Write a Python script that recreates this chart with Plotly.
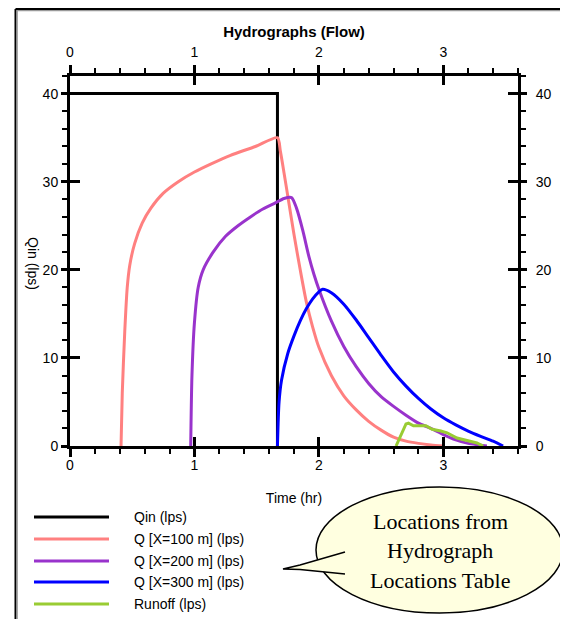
import plotly.graph_objects as go

# ---------------- data ----------------
qin_t = [0.0, 1.667, 1.667]
qin_q = [40.0, 40.0, 0.0]

q100_t = [0.41, 0.42, 0.44, 0.46, 0.48, 0.52, 0.58, 0.65, 0.75, 0.87, 1.0, 1.13, 1.29, 1.49, 1.667,
          1.69, 1.72, 1.76, 1.8, 1.85, 1.9, 1.95, 2.0, 2.1, 2.2, 2.3, 2.4, 2.5, 2.6, 2.7, 2.8, 2.9, 3.0]
q100_q = [0.0, 6.0, 13.0, 18.0, 20.5, 23.0, 25.3, 27.0, 28.7, 30.0, 31.1, 32.0, 33.0, 34.0, 35.0,
          33.5, 31.0, 27.5, 24.0, 20.0, 16.3, 13.5, 11.2, 8.0, 5.7, 4.1, 2.8, 1.8, 1.0, 0.55, 0.3, 0.12, 0.0]

q200_t = [0.97, 0.98, 1.0, 1.03, 1.07, 1.15, 1.25, 1.35, 1.45, 1.55, 1.65, 1.72, 1.78, 1.82, 1.87,
          1.92, 1.96, 2.0, 2.1, 2.2, 2.3, 2.4, 2.5, 2.6, 2.7, 2.8, 2.9, 3.0, 3.1, 3.2, 3.3, 3.35]
q200_q = [0.0, 8.0, 14.0, 18.0, 20.0, 22.0, 23.8, 25.0, 26.0, 26.9, 27.6, 28.1, 28.2, 27.0, 24.5,
          21.5, 19.5, 17.8, 14.2, 11.3, 9.0, 7.1, 5.6, 4.5, 3.5, 2.6, 2.0, 1.3, 0.7, 0.3, 0.1, 0.0]

q300_t = [1.667, 1.68, 1.7, 1.75, 1.8, 1.85, 1.9, 1.95, 2.0, 2.03, 2.1, 2.2, 2.3, 2.4, 2.5, 2.6,
          2.7, 2.8, 2.9, 3.0, 3.1, 3.2, 3.3, 3.4, 3.48]
q300_q = [0.0, 5.0, 7.5, 10.5, 12.5, 14.2, 15.6, 16.7, 17.5, 17.8, 17.4, 16.1, 14.3, 12.3, 10.3, 8.4,
          6.8, 5.4, 4.2, 3.2, 2.4, 1.7, 1.1, 0.55, 0.0]

runoff_t = [2.62, 2.70, 2.72, 2.76, 2.86, 2.91, 2.98, 3.03, 3.11, 3.19, 3.27, 3.32]
runoff_q = [0.0, 2.5, 2.6, 2.3, 2.3, 1.9, 1.7, 1.5, 0.9, 0.6, 0.35, 0.0]

series_names = ["Qin (lps)", "Q [X=100 m] (lps)", "Q [X=200 m] (lps)", "Q [X=300 m] (lps)", "Runoff (lps)"]
series_colors = ["#000000", "#FF8080", "#9933CC", "#0000FF", "#99CC33"]
series_smooth = [False, True, True, True, False]

x_range = [0, 3.6]
y_range = [0, 42]
callout_lines = ["Locations from", "Hydrograph", "Locations Table"]

# ---------------- layout helpers ----------------
# the page body has an 8px margin, so the figure is drawn 8px smaller and starts at (8, 8)
OFF = 8
W, H = 568 - OFF, 619 - OFF
PL, PR, PT, PB = 70, 518, 76, 446   # plot area in window pixels


def px(x):
    return (x - PL) / (PR - PL)


def py(y):
    return (PB - y) / (PB - PT)


FONT = "Liberation Sans, Arial, sans-serif"
tickfont = dict(family=FONT, size=14, color="black")

fig = go.Figure()
series = [(qin_t, qin_q), (q100_t, q100_q), (q200_t, q200_q), (q300_t, q300_q), (runoff_t, runoff_q)]
for (t, q), name, col, sm in zip(series, series_names, series_colors, series_smooth):
    line = dict(color=col, width=3)
    if sm:
        line.update(shape="spline", smoothing=0.7)
    fig.add_trace(go.Scatter(x=t, y=q, mode="lines", name=name, line=line, showlegend=False))

# dummy trace to register top/right axes
fig.add_trace(go.Scatter(x=[None], y=[None], xaxis="x2", yaxis="y2", showlegend=False,
                         hoverinfo="skip"))

common = dict(showgrid=False, zeroline=False, fixedrange=True, tickcolor="black",
              linecolor="black", linewidth=3, showline=True, tickfont=tickfont)

fig.update_layout(
    width=W, height=H,
    margin=dict(l=PL - OFF, r=W - (PR - OFF), t=PT - OFF, b=H - (PB - OFF)),
    paper_bgcolor="white", plot_bgcolor="white",
    title=dict(text="<b>Hydrographs (Flow)</b>", x=0.5, xref="paper", xanchor="center",
               y=1 - (32 - OFF) / H, yref="container", yanchor="middle",
               font=dict(family=FONT, size=15, color="black")),
    xaxis=dict(range=x_range, dtick=1, tick0=0, ticks="outside", ticklen=8, tickwidth=3,
               mirror="allticks", ticklabelstandoff=-4,
               minor=dict(dtick=0.2, tick0=0, ticks="outside", ticklen=5, tickwidth=2, tickcolor="black"),
               title=dict(text="Time (hr)", font=dict(family=FONT, size=14, color="black"), standoff=22),
               **common),
    xaxis2=dict(range=x_range, dtick=1, tick0=0, overlaying="x", side="top", anchor="y",
                ticks="inside", ticklen=9, tickwidth=3, mirror="allticks", ticklabelstandoff=10,
                **common),
    yaxis=dict(range=y_range, dtick=10, tick0=0, ticks="outside", ticklen=6, tickwidth=3,
               mirror="allticks",
               minor=dict(dtick=2, tick0=0, ticks="outside", ticklen=5, tickwidth=2, tickcolor="black"),
               **common),
    yaxis2=dict(range=y_range, dtick=10, tick0=0, overlaying="y", side="right", anchor="x",
                ticks="inside", ticklen=10, tickwidth=3, mirror="allticks", ticklabelstandoff=12,
                **common),
)

shapes = []
annotations = []

# outer frame (black + grey inner line), extends beyond the visible image
shapes.append(dict(type="line", xref="paper", yref="paper", x0=px(15.5), x1=px(600), y0=py(9), y1=py(9),
                   line=dict(color="black", width=2)))
shapes.append(dict(type="line", xref="paper", yref="paper", x0=px(15.5), x1=px(15.5), y0=py(9), y1=py(650),
                   line=dict(color="black", width=2)))
shapes.append(dict(type="line", xref="paper", yref="paper", x0=px(17), x1=px(600), y0=py(10.7), y1=py(10.7),
                   line=dict(color="#9a9a9a", width=1.3)))
shapes.append(dict(type="line", xref="paper", yref="paper", x0=px(17.2), x1=px(17.2), y0=py(10.7), y1=py(650),
                   line=dict(color="#9a9a9a", width=1.3)))

# y-axis title (reads top to bottom)
annotations.append(dict(text="Qin (lps)", xref="paper", yref="paper", x=px(33), y=py(263),
                        showarrow=False, textangle=90, font=dict(family=FONT, size=14, color="black"),
                        xanchor="center", yanchor="middle"))

# manual legend
rows = [517, 539, 561, 582, 604]
for r, name, col in zip(rows, series_names, series_colors):
    shapes.append(dict(type="line", xref="paper", yref="paper", x0=px(34), x1=px(109), y0=py(r), y1=py(r),
                       line=dict(color=col, width=3)))
    annotations.append(dict(text=name, xref="paper", yref="paper", x=px(132), y=py(r), showarrow=False,
                            xanchor="left", yanchor="middle", font=dict(family=FONT, size=14, color="black")))

# callout bubble
CX0, CX1, CY0, CY1 = 316, 563, 487, 613
fill = "#FFFFE0"
shapes.append(dict(type="circle", xref="paper", yref="paper", x0=px(CX0), x1=px(CX1), y0=py(CY0), y1=py(CY1),
                   fillcolor=fill, line=dict(color="black", width=1.5)))
tail = [(345, 552), (300, 565), (283, 569), (300, 569.5), (345, 574)]
path = "M " + " L ".join(f"{px(a):.5f},{py(b):.5f}" for a, b in tail)
shapes.append(dict(type="path", xref="paper", yref="paper", path=path, fillcolor=fill,
                   line=dict(color="black", width=1.5)))
for i, txt in enumerate(callout_lines):
    annotations.append(dict(text=txt, xref="paper", yref="paper", x=px(440), y=py(521 + 29.5 * i),
                            showarrow=False, xanchor="center", yanchor="middle",
                            font=dict(family="Liberation Serif, Times New Roman, serif", size=22, color="black")))

fig.update_layout(shapes=shapes, annotations=annotations)
fig.write_html("out.html")
